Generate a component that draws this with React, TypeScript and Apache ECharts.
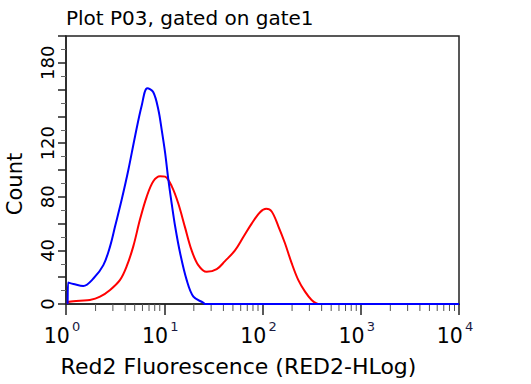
import React, { useEffect, useRef } from "react";
import * as echarts from "echarts";

// Fluorescence (RED2-HLog) channel values and counts
const BLUE_X = [1.04, 1.05, 1.19, 1.5, 1.9, 2.4, 2.81, 3.16, 3.69, 4.31, 5.04, 5.89, 6.73, 7.74, 8.71, 9.42, 10.2, 11.0, 11.9, 12.9, 14.5, 16.9, 19.8, 24.9, 26.0, 10000];
const BLUE_Y = [0, 16, 15, 13.5, 19, 29, 43, 58, 78, 100, 125, 148, 161, 158, 145, 130, 113, 93, 75, 58, 38, 18, 5.5, 1, 0, 0];

const RED_X = [1.04, 1.05, 1.39, 1.75, 2.22, 2.81, 3.55, 4.14, 4.84, 5.66, 6.62, 7.74, 9.06, 10.2, 11.9, 13.9, 16.3, 19.0, 22.2, 27.0, 34.2, 41.5, 52.5, 63.8, 77.6, 94.4, 109, 124, 145, 169, 198, 231, 271, 316, 355, 385, 10000];
const RED_Y = [0, 1.5, 2.5, 3, 5.5, 10.5, 18, 28, 43, 63, 80, 91.6, 95.4, 95, 88, 75, 57, 40, 29, 24, 26, 32, 40, 50, 60, 68.5, 71, 69, 58, 45.5, 30.5, 18, 9.2, 3, 0.5, 0, 0];

// Axis labels
const Y_LABELS = [0, 40, 80, 120, 180];
const X_DECADES = [0, 1, 2, 3, 4];
const MINOR_MULTIPLES = [2, 3, 4, 5, 6, 7, 8, 9];

const TITLE = "Plot P03, gated on gate1";
const X_NAME = "Red2 Fluorescence (RED2-HLog)";
const Y_NAME = "Count";

const FONT = "DejaVu Sans";

export default function App() {
  const ref = useRef<HTMLDivElement>(null);

  useEffect(() => {
    if (!ref.current) return;
    const chart = echarts.init(ref.current, undefined, { renderer: "svg" });

    const minorTicks: number[][] = [];
    for (let d = X_DECADES[0]; d < X_DECADES[X_DECADES.length - 1]; d++) {
      MINOR_MULTIPLES.forEach((m) => minorTicks.push([Math.log10(m * Math.pow(10, d)), 0]));
    }

    const option: any = {
      animation: false,
      backgroundColor: "#ffffff",
      title: {
        text: TITLE,
        left: 61,
        top: 3,
        textStyle: { fontFamily: FONT, fontSize: 20, fontWeight: "normal", color: "#000" },
      },
      grid: {
        left: 66,
        top: 36,
        width: 393,
        height: 268,
        show: true,
        containLabel: false,
        outerBoundsMode: "none",
        borderColor: "#222",
        borderWidth: 1.5,
        backgroundColor: "transparent",
      },
      xAxis: {
        type: "value",
        min: X_DECADES[0],
        max: X_DECADES[X_DECADES.length - 1],
        interval: 1,
        name: X_NAME,
        nameLocation: "middle",
        nameGap: 51,
        nameTextStyle: { fontFamily: FONT, fontSize: 22, color: "#000", padding: [0, 48, 0, 0] },
        axisLine: { show: true, onZero: false, lineStyle: { color: "#222", width: 1.5 } },
        axisTick: { show: true, inside: false, length: 11, lineStyle: { color: "#222", width: 1.5 } },
        splitLine: { show: false },
        axisLabel: {
          margin: 16,
          padding: [0, 8, 0, 0],
          formatter: (v: number) => `{a|10}{b|${Math.round(v)}}`,
          rich: {
            a: { fontFamily: FONT, fontSize: 20.5, color: "#000", lineHeight: 26, padding: [5, 0, 0, 0] },
            b: { fontFamily: FONT, fontSize: 13, color: "#1a1a40", verticalAlign: "top", lineHeight: 13, padding: [0, 0, 0, 2] },
          },
        },
      },
      yAxis: {
        type: "value",
        min: 0,
        max: 200,
        interval: 20,
        name: Y_NAME,
        nameLocation: "middle",
        nameGap: 41,
        nameTextStyle: { fontFamily: FONT, fontSize: 21, color: "#000", padding: [0, 28, 0, 0] },
        axisLine: { show: true, lineStyle: { color: "#222", width: 1.5 } },
        axisTick: { show: true, length: 8, lineStyle: { color: "#222", width: 1.5 } },
        minorTick: { show: true, splitNumber: 2, length: 5, lineStyle: { color: "#666", width: 1 } },
        splitLine: { show: false },
        minorSplitLine: { show: false },
        axisLabel: {
          rotate: 90,
          margin: 10,
          fontFamily: FONT,
          fontSize: 18,
          color: "#000",
          formatter: (v: number) => (Y_LABELS.indexOf(v) >= 0 ? String(v) : ""),
        },
      },
      series: [
        {
          type: "custom",
          name: "minor ticks",
          clip: false,
          silent: true,
          z: 1,
          data: minorTicks,
          renderItem: (params: any, api: any) => {
            const p = api.coord([api.value(0), 0]);
            return {
              type: "line",
              shape: { x1: p[0], y1: p[1], x2: p[0], y2: p[1] + 7 },
              style: { stroke: "#555", lineWidth: 1 },
            };
          },
        },
        {
          type: "line",
          name: "stained",
          data: RED_X.map((x, i) => [Math.log10(x), RED_Y[i]]),
          showSymbol: false,
          smooth: 0.35,
          lineStyle: { color: "#ff0000", width: 2 },
          itemStyle: { color: "#ff0000" },
          z: 3,
        },
        {
          type: "line",
          name: "control",
          data: BLUE_X.map((x, i) => [Math.log10(x), BLUE_Y[i]]),
          showSymbol: false,
          smooth: 0.35,
          lineStyle: { color: "#0000ff", width: 2 },
          itemStyle: { color: "#0000ff" },
          z: 4,
        },
      ],
    };

    chart.setOption(option);
    return () => chart.dispose();
  }, []);

  return (
    <div
      ref={ref}
      style={{ position: "fixed", left: 0, top: 0, width: 531, height: 384, background: "#fff" }}
    />
  );
}
